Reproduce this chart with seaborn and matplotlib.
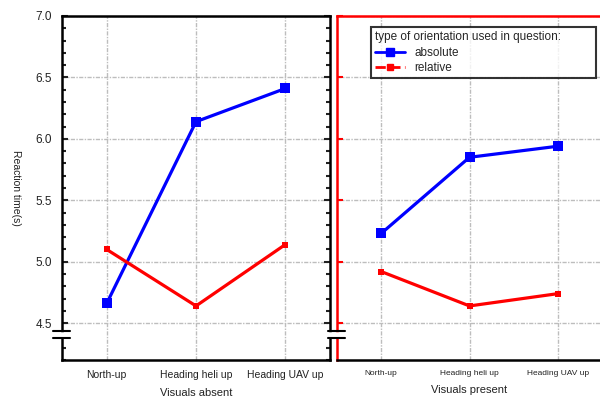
import pandas as pd
import matplotlib
matplotlib.use('Agg')
import matplotlib.pyplot as plt
from matplotlib.lines import Line2D
from matplotlib.ticker import MultipleLocator
import seaborn as sns

views = ['North-up', 'Heading heli up', 'Heading UAV up']
absent_absolute = [4.66, 6.14, 6.41]
absent_relative = [5.10, 4.64, 5.14]
present_absolute = [5.23, 5.85, 5.94]
present_relative = [4.92, 4.64, 4.74]

sns.set_style('white')
plt.rcParams['font.family'] = ['Liberation Sans', 'DejaVu Sans']

fig = plt.figure(figsize=(6, 4), dpi=100)
ax1 = fig.add_axes([62 / 600, 0.1, 268 / 600, 0.86])
ax2 = fig.add_axes([337 / 600, 0.1, 265 / 600, 0.86])

panels = [(ax1, absent_absolute, absent_relative, 'Visuals absent', 7.5),
          (ax2, present_absolute, present_relative, 'Visuals present', 6)]

for ax, absv, relv, xlabel, tsize in panels:
    df = pd.DataFrame({'view': views * 2,
                       'rt': absv + relv,
                       'type': ['absolute'] * 3 + ['relative'] * 3})
    ax.grid(True, color='#bdbdbd', linestyle=(0, (3, 1, 1, 1)), linewidth=1)
    ax.set_axisbelow(True)
    sns.lineplot(data=df[df['type'] == 'absolute'], x='view', y='rt', ax=ax,
                 color='#0000ff', linewidth=2.3, marker='s', markersize=6.5,
                 markeredgewidth=0, legend=False)
    sns.lineplot(data=df[df['type'] == 'relative'], x='view', y='rt', ax=ax,
                 color='#ff0000', linewidth=2.3, marker='s', markersize=4.5,
                 markeredgewidth=0, legend=False)
    ax.set_xlim(-0.5, 2.5)
    ax.set_ylim(4.2, 7.0)
    ax.yaxis.set_major_locator(MultipleLocator(0.5))
    ax.set_xlabel(xlabel, fontsize=8, labelpad=6, color='#222222')
    ax.set_ylabel('')
    ax.tick_params(axis='x', labelsize=tsize, direction='in', length=3,
                   pad=7, colors='#222222')
    for s in ax.spines.values():
        s.set_linewidth(1.8)
        s.set_color('black')

# left panel
ax1.yaxis.set_minor_locator(MultipleLocator(0.1))
ax1.tick_params(axis='y', which='both', direction='in', left=True, right=True,
                labelsize=8.5, colors='#222222', pad=7)
ax1.tick_params(axis='y', which='major', length=4, width=1.5)
ax1.tick_params(axis='y', which='minor', length=3, width=1.5)
ax1.set_ylabel('Reaction time(s)', fontsize=7.5, rotation=-90, color='#222222')
ax1.yaxis.set_label_coords(-0.19, 0.5)

# right panel
ax2.tick_params(axis='y', which='both', left=True, labelleft=False,
                direction='in', length=4, width=1.5, color='#ff0000')
ax2.spines['left'].set_color('#ff0000')
ax2.spines['top'].set_color('#ff0000')
ax2.spines['right'].set_visible(False)

# axis break marks
for ax in (ax1, ax2):
    ax.plot([-0.035, 0.035], [0.074, 0.074], transform=ax.transAxes,
            color='white', linewidth=4, clip_on=False, zorder=5)
    for yy in (0.065, 0.083):
        ax.plot([-0.035, 0.03], [yy, yy], transform=ax.transAxes,
                color='black', linewidth=1.5, clip_on=False, zorder=6)

handles = [Line2D([], [], color='#0000ff', linewidth=2, marker='s',
                  markersize=6, label='absolute'),
           Line2D([], [], color='#ff0000', linewidth=2, linestyle='--',
                  marker='s', markersize=4, label='relative')]
leg = ax2.legend(handles=handles, title='type of orientation used in question:',
                 loc='upper left', bbox_to_anchor=(0.128, 0.83, 0.85, 0.138),
                 mode='expand', fontsize=8.5, title_fontsize=8.5, frameon=True,
                 fancybox=False, borderpad=0.35, handlelength=2.5,
                 labelspacing=0.3, handletextpad=0.8, borderaxespad=0)
leg._legend_box.align = 'left'
leg.get_frame().set_edgecolor('black')
leg.get_frame().set_linewidth(1.5)

fig.savefig('out.png', dpi=100)
